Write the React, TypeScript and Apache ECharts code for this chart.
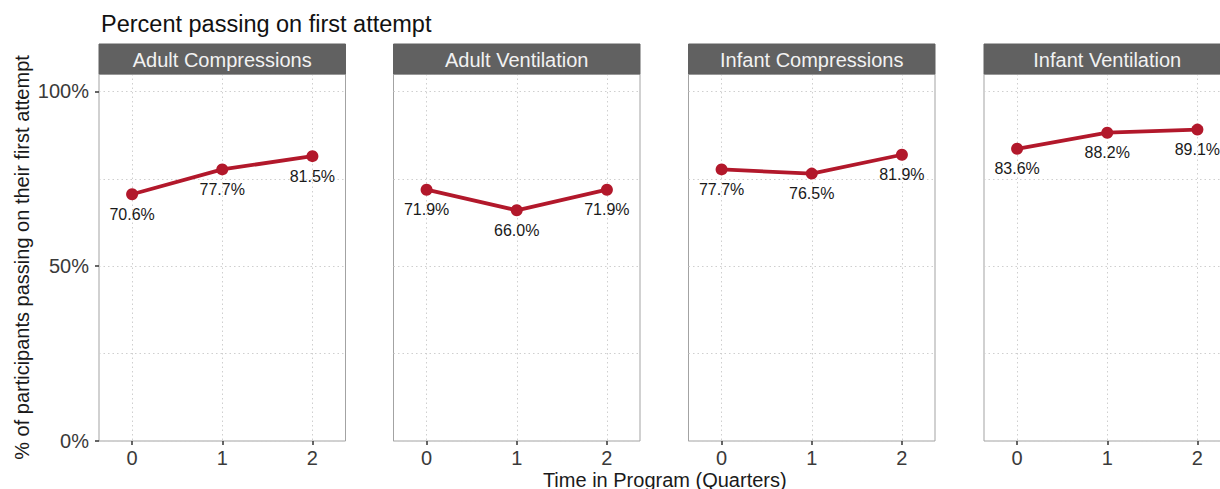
import React, { useEffect, useRef } from "react";
import * as echarts from "echarts";

const panels = ["Adult Compressions", "Adult Ventilation", "Infant Compressions", "Infant Ventilation"];
const quarters = [0, 1, 2];
const adultCompressions = [70.6, 77.7, 81.5];
const adultVentilation = [71.9, 66.0, 71.9];
const infantCompressions = [77.7, 76.5, 81.9];
const infantVentilation = [83.6, 88.2, 89.1];
const seriesValues = [adultCompressions, adultVentilation, infantCompressions, infantVentilation];
const yLabelTicks = [0, 50, 100];
const xTicks = [0, 1, 2];

const W = 1220;
const H = 489;
const panelLefts = [99, 393.5, 688.5, 984];
const panelWidth = 246.5;
const panelTop = 74;
const panelBottomY = 441;
const stripTop = 44;
const FONT = "'Liberation Sans', Arial, Helvetica, sans-serif";
const RED = "#B2182B";

export default function App() {
  const ref = useRef<HTMLDivElement>(null);
  useEffect(() => {
    if (!ref.current) return;
    const chart = echarts.init(ref.current, undefined, { renderer: "svg" });
    const grids: any[] = [];
    const xAxes: any[] = [];
    const yAxes: any[] = [];
    const series: any[] = [];
    const graphics: any[] = [];
    const gridLine = { show: true, lineStyle: { color: "#cfcfcf", type: [1.5, 3], width: 1 } };

    panels.forEach((name, i) => {
      grids.push({
        left: panelLefts[i],
        width: panelWidth,
        top: panelTop,
        bottom: H - panelBottomY,
        outerBoundsMode: "none",
        containLabel: false,
        show: true,
        borderColor: "#a3a3a3",
        borderWidth: 1,
        backgroundColor: "transparent",
      });
      xAxes.push({
        type: "value",
        gridIndex: i,
        min: -0.367,
        max: 2.367,
        axisLine: { show: false },
        axisTick: { show: true, customValues: xTicks, length: 4, lineStyle: { color: "#333", width: 1.5 } },
        axisLabel: {
          show: true,
          customValues: xTicks,
          fontSize: 20,
          color: "#3a3a3a",
          fontFamily: FONT,
          margin: 7,
        },
        splitLine: gridLine,
      });
      yAxes.push({
        type: "value",
        gridIndex: i,
        position: "left",
        min: 0,
        max: 105,
        interval: 25,
        axisLine: { show: false },
        axisTick: { show: false },
        axisLabel: {
          show: i === 0,
          fontSize: 20,
          color: "#3a3a3a",
          fontFamily: FONT,
          margin: 10,
          formatter: (v: number) => (yLabelTicks.includes(v) ? v + "%" : ""),
        },
        splitLine: gridLine,
        name: i === 0 ? "% of participants passing on their first attempt" : "",
        nameLocation: "middle",
        nameRotate: 90,
        nameGap: 67,
        nameTextStyle: { fontSize: 20, color: "#1a1a1a", fontFamily: FONT },
      });
      series.push({
        type: "line",
        xAxisIndex: i,
        yAxisIndex: i,
        data: quarters.map((q, k) => [q, seriesValues[i][k]]),
        lineStyle: { color: RED, width: 3.8 },
        itemStyle: { color: RED },
        symbol: "circle",
        symbolSize: 12,
        label: {
          show: true,
          position: "bottom",
          distance: 6,
          fontSize: 16,
          color: "#1a1a1a",
          fontFamily: FONT,
          formatter: (p: any) => p.value[1].toFixed(1) + "%",
        },
        z: 5,
      });
      graphics.push({
        type: "rect",
        shape: { x: panelLefts[i], y: stripTop, width: panelWidth, height: panelTop - stripTop },
        style: { fill: "#616161", stroke: "#616161" },
        z: 100,
      });
      graphics.push({
        type: "text",
        x: panelLefts[i] + panelWidth / 2,
        y: (stripTop + panelTop) / 2 + 0.5,
        style: {
          text: name,
          fill: "#f2f2f2",
          fontSize: 20,
          fontFamily: FONT,
          textAlign: "center",
          textVerticalAlign: "middle",
        },
        z: 101,
      });
    });

    // tick marks on the first panel's y axis
    yAxes.push({
      type: "value",
      gridIndex: 0,
      position: "left",
      min: 0,
      max: 105,
      interval: 25,
      axisLine: { show: false },
      axisTick: { show: true, customValues: yLabelTicks, length: 4, lineStyle: { color: "#333", width: 1.5 } },
      axisLabel: { show: false },
      splitLine: { show: false },
    });

    graphics.push({
      type: "text",
      x: (panelLefts[0] + panelLefts[3] + panelWidth) / 2,
      y: 479.5,
      style: {
        text: "Time in Program (Quarters)",
        fill: "#1a1a1a",
        fontSize: 20,
        fontFamily: FONT,
        textAlign: "center",
        textVerticalAlign: "middle",
      },
    });

    chart.setOption({
      animation: false,
      backgroundColor: "#ffffff",
      title: {
        text: "Percent passing on first attempt",
        left: 96,
        top: 7,
        textStyle: { fontSize: 23.5, fontWeight: "normal", color: "#111", fontFamily: FONT },
      },
      grid: grids,
      xAxis: xAxes,
      yAxis: yAxes,
      series,
      graphic: graphics,
    });
    return () => chart.dispose();
  }, []);
  return <div ref={ref} style={{ position: "fixed", left: 0, top: 0, width: W, height: H }} />;
}
